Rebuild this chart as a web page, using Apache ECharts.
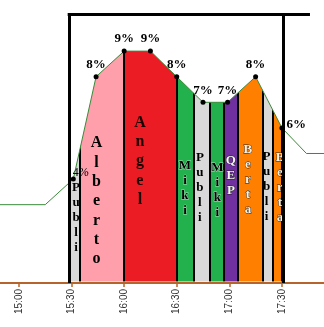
<!DOCTYPE html>
<html><head><meta charset="utf-8">
<script src="https://cdn.jsdelivr.net/npm/echarts@6/dist/echarts.min.js"></script>
<style>html,body{margin:0;padding:0;background:#fff}#c{width:324px;height:327px}</style>
</head><body><div id="c"></div>
<script>
// ---- data (time = minutes since midnight, value = %) ----
const lineTimes  = [885, 915, 931, 944, 960, 975, 990, 1005, 1019, 1035, 1050, 1064, 1080];
const lineValues = [3, 3, 4, 8, 9, 9, 8, 7, 7, 8, 6, 5, 5];
const segNames   = ['Publi', 'Alberto', 'Angel', 'Miki', 'Publi', 'Miki', 'QEP', 'Berta', 'Publi', 'Berta'];
const segStarts  = [930, 935, 960, 990, 1000, 1009, 1017, 1025, 1039, 1045];
const segEnds    = [935, 960, 990, 1000, 1009, 1017, 1025, 1039, 1045, 1050];
const tickTimes  = [900, 930, 960, 990, 1020, 1050];

// ---- layout / style ----
const X_MIN = 889.2, X_MAX = 1074, Y_MIN = -0.06, Y_MAX = 10.45;
const BOX_LEFT = 928.6, BOX_RIGHT = 1050.6, BOX_TOP_END = 1066;
const textX   = [932.6, 944.2, 969, 994.7, 1003.2, 1013.2, 1020.9, 1030.6, 1041.2, 1048.9];
const textTop = [3.96, 5.78, 6.58, 4.80, 5.13, 4.75, 5.03, 5.43, 5.16, 5.15];
const segColor = {Publi:'#d9d9d9', Alberto:'#ff9fab', Angel:'#ec1c24', Miki:'#22b14c', QEP:'#7030a0', Berta:'#ff7f00'};
const textStyle = {
  Publi:   {color:'#000', fontSize:13, lineHeight:15},
  Alberto: {color:'#000', fontSize:16, lineHeight:19.3},
  Angel:   {color:'#1a0000', fontSize:16, lineHeight:19.3},
  Miki:    {color:'#000', fontSize:13, lineHeight:15, textBorderColor:'rgba(255,255,255,0.6)', textBorderWidth:0.8},
  QEP:     {color:'#f4f4f4', fontSize:13, lineHeight:15, textBorderColor:'#222', textBorderWidth:0.8},
  Berta:   {color:'#f8f0e0', fontSize:13, lineHeight:15, textBorderColor:'#222', textBorderWidth:0.8}
};
const H = 0.6;

// visualMap pieces (ascending); the box line covers the very first edge
const pieces = [];
segNames.forEach((n, i) => {
  pieces.push({gte: segStarts[i] + (i === 0 ? -H : H), lt: segEnds[i] - H, color: segColor[n]});
  pieces.push({gte: segEnds[i] - H, lt: segEnds[i] + H, color: '#000'});
});

const pad = n => (n < 10 ? '0' : '') + n;
const fmt = v => pad(Math.floor(v / 60)) + ':' + pad(Math.round(v % 60));

const inBoxIdx = lineTimes.map((t, i) => (t >= segStarts[0] && t <= segEnds[segEnds.length - 1]) ? i : -1).filter(i => i >= 0);
const firstIn = inBoxIdx[0], lastIn = inBoxIdx[inBoxIdx.length - 1];

const lineData = lineTimes.map((t, i) => {
  const v = lineValues[i];
  const inBox = inBoxIdx.indexOf(i) >= 0;
  const item = {value: [t, v], symbol: inBox ? 'circle' : 'none'};
  let lab = {show: inBox, formatter: v + '%', position: 'top', distance: 3};
  if (i === firstIn) lab = {show: true, formatter: v + '%', position: 'right', distance: 0, offset: [-3, -6], fontWeight: 'normal', fontSize: 12};
  else if (i === lastIn) lab = {show: true, formatter: v + '%', position: 'right', distance: 2, offset: [0, -3]};
  item.label = lab;
  return item;
});

const textData = segNames.map((n, i) => ({
  name: n, value: [textX[i], textTop[i]],
  label: Object.assign({show: true, position: 'bottom', distance: 0, fontFamily: 'Liberation Serif', fontWeight: 'bold',
    formatter: p => p.name.split('').join('\n')}, textStyle[n])
}));

const chart = echarts.init(document.getElementById('c'), null, {renderer: 'canvas'});
chart.setOption({
  animation: false,
  backgroundColor: '#fff',
  grid: {left: 0, right: 0, top: 14, bottom: 44, containLabel: false},
  xAxis: {
    type: 'value', min: X_MIN, max: X_MAX,
    splitLine: {show: false},
    axisLine: {show: true, onZero: false, lineStyle: {color: '#b5652b', width: 2}},
    axisTick: {show: true, customValues: tickTimes, length: 4, lineStyle: {color: '#b5652b', width: 1.5}},
    axisLabel: {customValues: tickTimes, rotate: 90, margin: 6, color: '#333', fontSize: 10,
      fontFamily: 'Liberation Sans', formatter: v => fmt(v)}
  },
  yAxis: {type: 'value', min: Y_MIN, max: Y_MAX, show: false, splitLine: {show: false}},
  visualMap: {
    show: false, type: 'piecewise', seriesIndex: 0, dimension: 0,
    pieces: pieces, outOfRange: {color: 'rgba(255,255,255,0)'}
  },
  series: [
    {
      type: 'line', data: lineTimes.map((t, i) => [t, lineValues[i]]),
      symbol: 'none', lineStyle: {width: 0, opacity: 0},
      areaStyle: {opacity: 1}, z: 1, silent: true
    },
    {
      type: 'line', data: lineData, z: 3,
      symbolSize: 5, itemStyle: {color: '#000'},
      lineStyle: {color: '#3a8a3a', width: 1},
      label: {color: '#000', fontFamily: 'Liberation Serif', fontWeight: 'bold', fontSize: 13},
      markLine: {
        silent: true, symbol: 'none', label: {show: false},
        lineStyle: {color: '#000', width: 3, type: 'solid'},
        data: [
          [{coord: [BOX_LEFT, Y_MIN]}, {coord: [BOX_LEFT, Y_MAX]}],
          [{coord: [BOX_RIGHT, Y_MIN]}, {coord: [BOX_RIGHT, Y_MAX]}],
          [{coord: [BOX_LEFT - 0.8, Y_MAX]}, {coord: [BOX_TOP_END, Y_MAX]}]
        ]
      }
    },
    {
      type: 'scatter', data: textData, symbolSize: 0, z: 4, silent: true,
      itemStyle: {opacity: 1}
    }
  ]
});
</script></body></html>
